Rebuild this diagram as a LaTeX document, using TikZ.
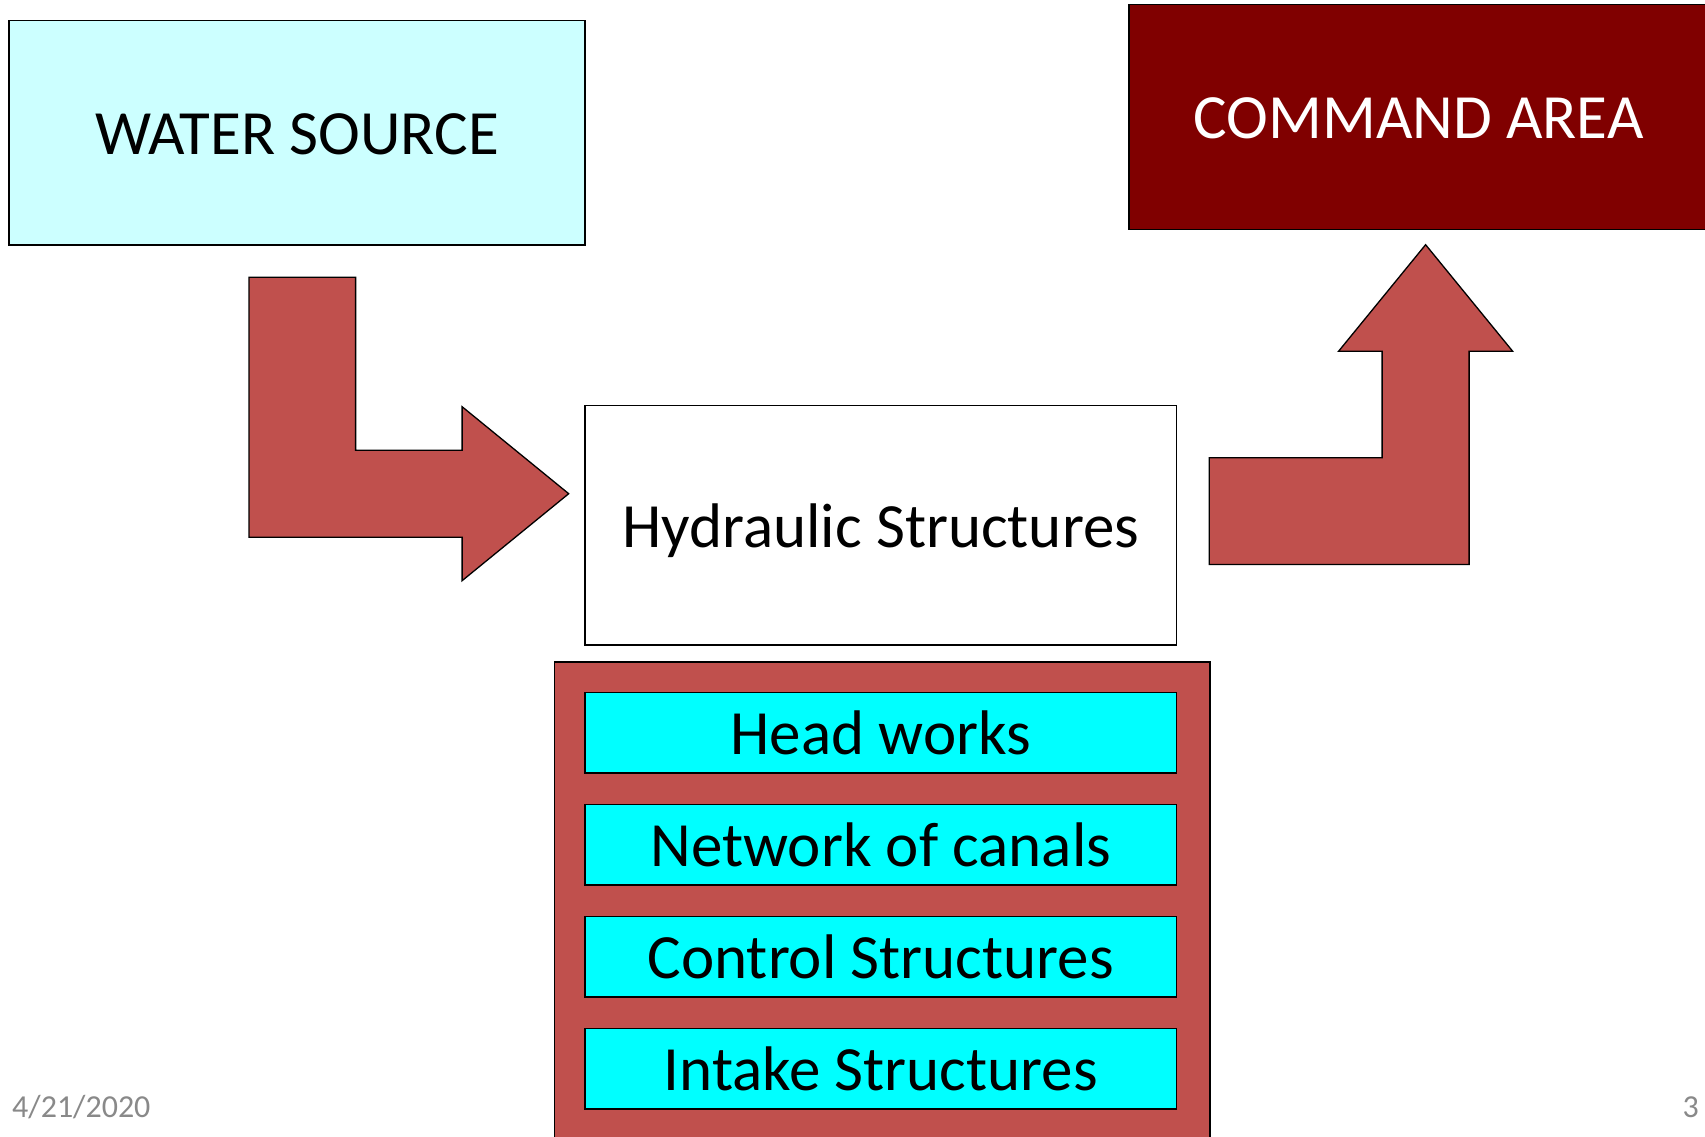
\documentclass[tikz,border=0pt]{standalone}
\usepackage{fontspec}
\setmainfont{Carlito}
\definecolor{wsfill}{HTML}{CCFFFF}
\definecolor{cafill}{HTML}{800000}
\definecolor{arrowred}{HTML}{C0504D}
\definecolor{cyanbox}{HTML}{00FFFF}
\definecolor{footgray}{HTML}{898989}
\begin{document}
\begin{tikzpicture}[x=1pt,y=-1pt,
  bigtext/.style={font=\fontsize{63}{75}\selectfont, text height=44pt, text depth=0pt},
  boxstyle/.style={draw=black, line width=1.6pt, rectangle, inner sep=0pt, bigtext},
  itembox/.style={boxstyle, fill=cyanbox, minimum width=591.6pt, minimum height=80.5pt},
  blockarrow/.style={fill=arrowred, draw=black, line width=1.3pt, line join=miter},
  foot/.style={font=\fontsize{32}{36}\selectfont, text=footgray, inner sep=0pt}]
\useasboundingbox (0,0) rectangle (1705,1137);
\fill[white] (0,0) rectangle (1705,1137);

% Water source
\node[boxstyle, fill=wsfill, minimum width=576.3pt, minimum height=224pt] (ws) at (296.9,132.7) {WATER SOURCE};

% Command area (right edge runs off the page)
\node[boxstyle, fill=cafill, text=white, minimum width=579pt, minimum height=225pt] (ca) at (1418.5,116.9) {COMMAND AREA};

% Hydraulic structures
\node[boxstyle, fill=white, minimum width=591.6pt, minimum height=239.2pt] (hs) at (880.8,525.2) {Hydraulic Structures};

% Container
\node[draw=black, line width=1.6pt, fill=arrowred, rectangle, inner sep=0pt, minimum width=655.7pt, minimum height=484pt, anchor=north west] (cont) at (553.5,661.1) {};

% Items
\node[itembox] (hw) at (880.8,732.9) {Head works};
\node[itembox] (nc) at (880.8,844.9) {Network of canals};
\node[itembox] (cs) at (880.8,956.9) {Control Structures};
\node[itembox] (is) at (880.8,1068.9) {Intake Structures};

% Bent arrow: water source -> hydraulic structures
\draw[blockarrow] (249.0,277.3) -- (355.6,277.3) -- (355.6,450.2) -- (462.1,450.2) -- (462.1,406.7)
  -- (568.7,493.7) -- (462.1,580.7) -- (462.1,537.2) -- (249.0,537.2) -- cycle;

% Bent arrow: hydraulic structures -> command area
\draw[blockarrow] (1209.2,457.8) -- (1382.1,457.8) -- (1382.1,351.2) -- (1338.6,351.2) -- (1425.6,244.7)
  -- (1512.6,351.2) -- (1469.1,351.2) -- (1469.1,564.4) -- (1209.2,564.4) -- cycle;

% Footer
\node[foot, anchor=west] (date) at (12,1107) {4/21/2020};
\node[foot, anchor=east] (pg) at (1699,1107) {3};
\end{tikzpicture}
\end{document}
